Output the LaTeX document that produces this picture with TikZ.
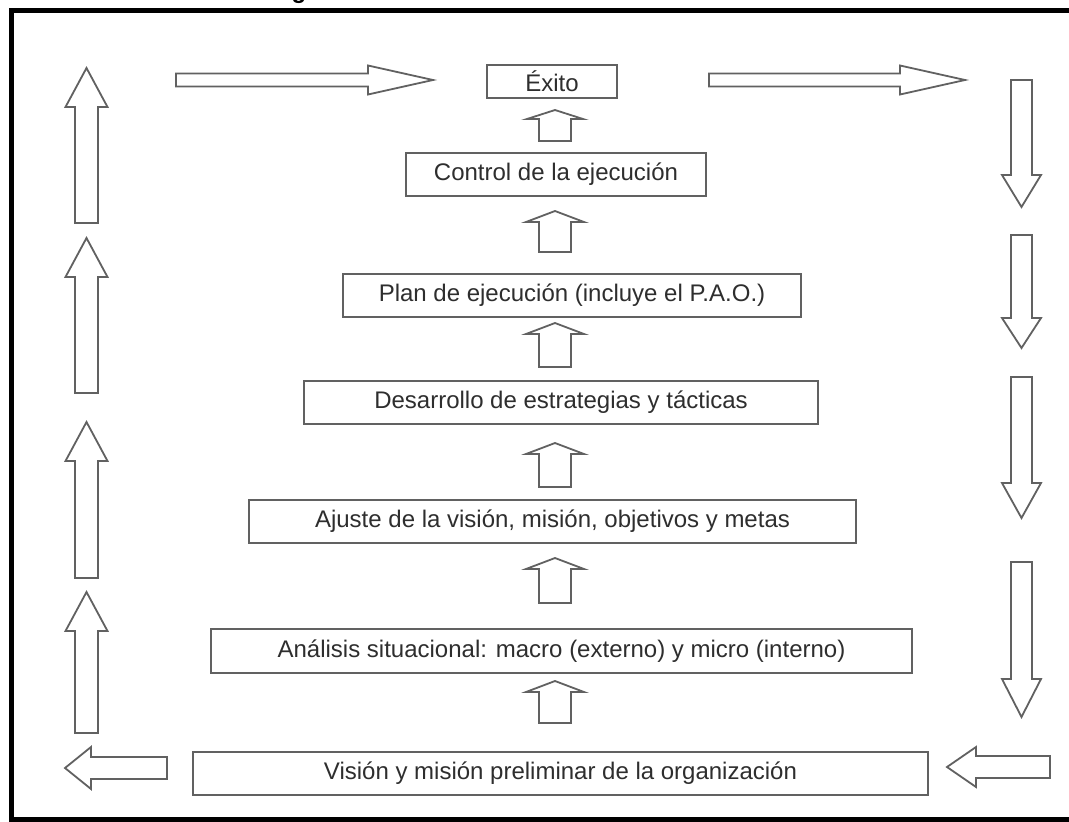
\documentclass[tikz,border=0pt]{standalone}
\usepackage{fontspec}
\setmainfont{Liberation Sans}
\begin{document}
\begin{tikzpicture}[x=1pt,y=-1pt,
  box/.style={draw=black!62, line width=1.8pt, fill=white, inner sep=0pt,
    text=black!82, font=\fontsize{24}{28}\selectfont},
  blockarrow/.style={draw=black!62, line width=1.8pt, fill=white, line join=miter},
  frame/.style={draw=black, line width=5pt}]
\useasboundingbox (0,0) rectangle (1069,822);
\clip (0,0) rectangle (1069,822);
% cut-off title above the frame
\node[anchor=base, inner sep=0pt, font=\bfseries\fontsize{24}{28}\selectfont] (title) at (299,-2) {g};
% frame
\draw[frame] (1080,10) -- (11,10) -- (11,819) -- (1080,819);
% boxes
\node[box, minimum width=130pt, minimum height=33pt] (exito) at (552,81.5) {Éxito};
\node[box, minimum width=300pt, minimum height=43pt] (control) at (556,174.5) {Control de la ejecución};
\node[box, minimum width=458pt, minimum height=43pt] (plan) at (572,295.5) {Plan de ejecución (incluye el P.A.O.)};
\node[box, minimum width=514pt, minimum height=43pt] (desarrollo) at (561,402.5) {Desarrollo de estrategias y tácticas};
\node[box, minimum width=607pt, minimum height=43pt] (ajuste) at (552.5,521.5) {Ajuste de la visión, misión, objetivos y metas};
\node[box, minimum width=701pt, minimum height=44pt] (analisis) at (561.5,651) {Análisis situacional: macro (externo) y micro (interno)};
\node[box, minimum width=735pt, minimum height=43pt] (vision) at (560.5,773.5) {Visión y misión preliminar de la organización};
% block arrow helpers
\newcommand\blkV[6]{% x, tip y, tail y, shaft half, head half, head length (signed)
  \draw[blockarrow] (#1,#2) -- (#1+#5,#2+#6) -- (#1+#4,#2+#6) -- (#1+#4,#3)
    -- (#1-#4,#3) -- (#1-#4,#2+#6) -- (#1-#5,#2+#6) -- cycle;}
\newcommand\blkH[6]{% y, tip x, tail x, shaft half, head half, head length (signed)
  \draw[blockarrow] (#2,#1) -- (#2+#6,#1-#5) -- (#2+#6,#1-#4) -- (#3,#1-#4)
    -- (#3,#1+#4) -- (#2+#6,#1+#4) -- (#2+#6,#1+#5) -- cycle;}
% central up arrows
\blkV{555}{110}{141}{16}{28}{9}
\blkV{555}{211}{252}{16}{29}{11}
\blkV{555}{323}{367}{16}{29}{11}
\blkV{555}{443}{487}{16}{29}{11}
\blkV{555}{558}{603}{16}{29}{11}
\blkV{555}{681}{723}{16}{29}{11}
% left column up arrows
\blkV{86.5}{68}{223}{11.5}{21}{39}
\blkV{86.5}{238}{393}{11.5}{21}{39}
\blkV{86.5}{422}{578}{11.5}{21}{39}
\blkV{86.5}{592}{733}{11.5}{21}{39}
% right column down arrows
\blkV{1021.5}{207}{80}{10.5}{19.5}{-32}
\blkV{1021.5}{348}{235}{10.5}{19.5}{-30}
\blkV{1021.5}{518}{377}{10.5}{19.5}{-35}
\blkV{1021.5}{717}{562}{10.5}{19.5}{-38}
% top arrows (pointing right)
\blkH{80}{433}{176}{6.5}{14.5}{-65}
\blkH{80}{965}{709}{6.5}{14.5}{-65}
% bottom arrows (pointing left)
\blkH{768}{65}{167}{11}{21}{26}
\blkH{767}{947}{1050}{11}{20}{29}
\end{tikzpicture}
\end{document}
